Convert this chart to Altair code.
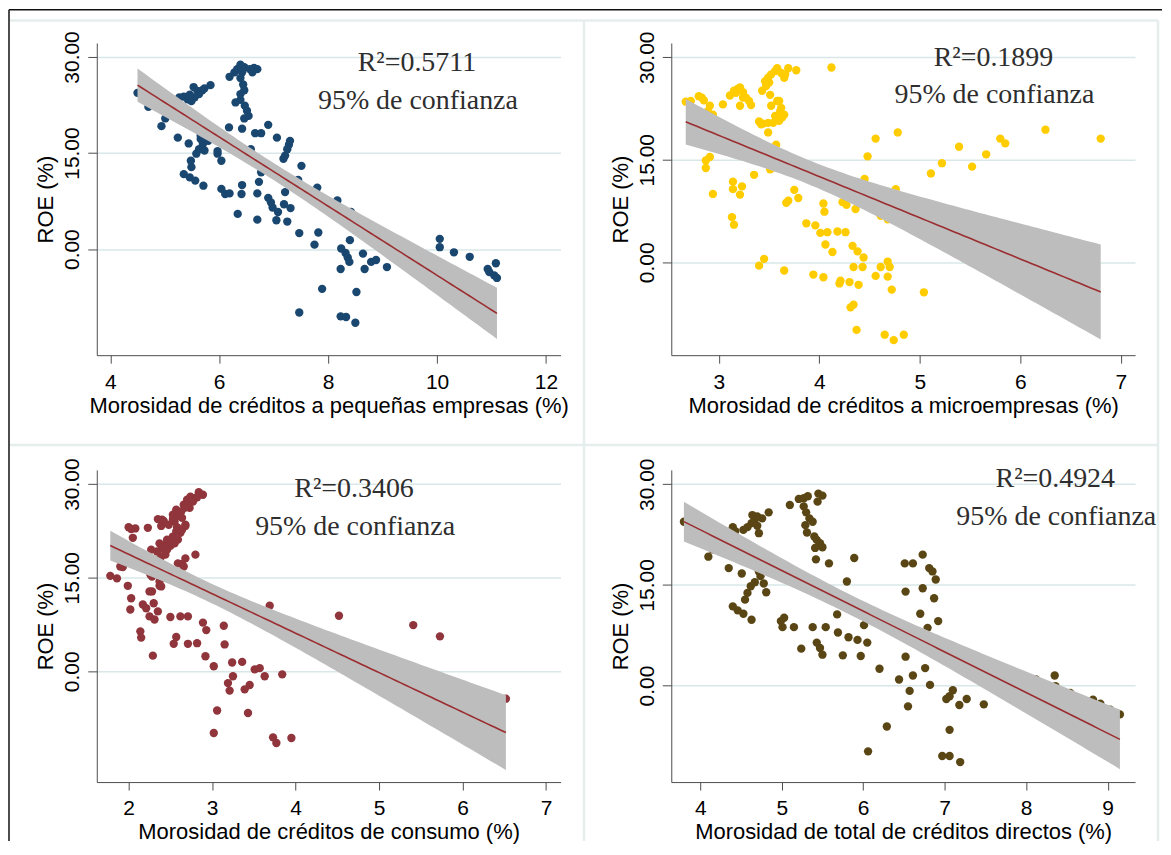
import altair as alt
import numpy as np
import pandas as pd

# ---------------- data ----------------
p1_x = [4.50, 4.70, 4.94, 5.01, 5.24, 5.44, 5.27, 5.35, 5.42, 5.49, 5.55, 5.46, 5.53, 5.60, 5.69, 5.73,
        5.84, 5.63, 5.66, 5.73, 5.80, 5.70, 5.63, 5.58, 5.73, 5.48, 5.49, 5.35, 5.46, 5.56, 5.71, 5.97,
        6.04, 6.04, 6.11, 6.19, 6.18, 6.19, 6.28, 6.33, 6.39, 6.46, 6.42, 6.39, 6.44, 6.46, 6.39, 6.30,
        6.39, 6.47, 6.51, 6.54, 6.46, 6.42, 6.56, 6.64, 6.70, 6.61, 6.58, 6.34, 6.41, 6.42, 6.70, 6.70,
        6.73, 6.77, 6.66, 6.77, 6.90, 6.90, 6.95, 6.98, 7.08, 7.05, 7.06, 7.18, 7.21, 7.25, 7.28, 7.30,
        7.21, 7.19, 7.31, 7.25, 7.45, 7.51, 7.47, 7.75, 7.82, 7.80, 7.89, 7.47, 8.17, 8.24, 8.32, 8.36,
        8.39, 8.23, 8.42, 8.40, 8.23, 8.33, 8.50, 8.52, 8.64, 8.67, 8.79, 8.88, 9.08, 10.05, 10.05, 10.31,
        10.60, 10.93, 10.96, 11.05, 11.10, 11.08, 5.97, 5.66]
p1_y = [24.4, 22.2, 19.2, 20.4, 17.4, 16.5, 23.7, 23.8, 23.4, 23.1, 23.7, 24.1, 25.3, 24.7, 24.8, 25.1,
        25.6, 24.2, 17.7, 17.2, 16.9, 16.4, 15.6, 14.9, 15.4, 13.8, 12.8, 11.7, 11.2, 10.7, 9.9, 14.9,
        13.8, 9.4, 8.6, 8.7, 19.0, 26.9, 27.6, 28.1, 28.8, 28.4, 27.6, 26.7, 25.7, 24.8, 24.2, 22.9,
        23.3, 22.4, 21.6, 20.8, 20.4, 18.8, 28.1, 28.3, 28.1, 27.6, 15.6, 5.5, 8.6, 10.0, 8.7, 4.6,
        10.5, 12.0, 18.1, 18.1, 19.4, 8.0, 7.3, 6.5, 5.8, 4.5, 17.4, 14.1, 14.6, 15.6, 16.3, 16.9,
        8.9, 7.0, 6.4, 4.3, 10.8, 13.0, 2.5, 0.7, 2.6, 9.6, -6.2, -9.9, 7.6, 0.1, -0.6, -1.3,
        -2.0, -3.1, 5.8, 1.4, -10.5, -10.6, -11.5, -6.7, -0.7, -3.1, -2.0, -1.7, -2.8, 1.6, 0.3, -0.5,
        -1.2, -3.1, -3.6, -4.1, -4.5, -2.2, 15.3, 17.2]

p2_x = [2.67, 2.80, 2.85, 2.91, 2.94, 3.04, 2.87, 2.91, 2.87, 2.94, 3.11, 3.15, 3.19, 3.21, 3.24, 3.27,
        3.32, 3.21, 3.14, 3.14, 3.23, 3.21, 3.13, 3.15, 3.35, 3.40, 3.44, 3.43, 3.46, 3.49, 3.52, 3.56,
        3.58, 3.51, 3.49, 3.52, 3.58, 3.61, 3.63, 3.60, 3.54, 3.57, 3.51, 3.66, 3.69, 3.77, 3.75, 3.79,
        3.67, 3.69, 3.40, 3.45, 3.65, 3.87, 3.96, 4.01, 4.08, 4.18, 4.26, 4.04, 4.05, 4.06, 4.13, 3.94,
        4.04, 4.20, 4.30, 4.39, 4.34, 4.33, 4.38, 4.44, 4.31, 4.34, 4.37, 4.12, 4.23, 4.27, 4.36, 4.45,
        4.48, 4.56, 4.78, 4.76, 4.61, 4.68, 4.56, 4.61, 4.68, 4.68, 4.72, 4.65, 4.74, 4.84, 5.04, 5.11,
        5.22, 5.39, 5.52, 5.66, 5.80, 5.85, 6.25, 6.80,
        3.17, 3.24, 3.30, 3.47, 3.50, 3.62, 3.65, 3.60, 3.62, 3.65, 3.56, 3.49, 3.42, 2.72, 2.83, 2.89,
        3.51, 3.54, 4.21, 4.43, 4.70]
p2_y = [23.5, 24.3, 23.7, 22.9, 21.6, 23.1, 14.9, 15.4, 13.8, 10.0, 24.4, 25.1, 25.4, 25.6, 24.9, 24.1,
        23.0, 22.9, 11.8, 10.7, 11.1, 9.9, 6.6, 5.5, 12.8, 20.6, 20.3, 25.1, 26.5, 27.0, 27.5, 28.0,
        28.4, 24.5, 19.0, 22.9, 23.6, 22.1, 21.2, 20.7, 20.4, 17.2, 13.6, 27.5, 28.4, 28.1, 10.6, 9.4,
        8.7, 9.0, -0.5, 0.5, -1.2, 5.7, 5.4, 4.3, 4.4, 4.5, 4.4, 8.6, 7.4, 2.6, 1.5, -1.8,
        -2.2, -3.1, -2.9, -3.3, -0.7, 2.4, 1.6, 0.7, -6.6, -6.2, -9.9, 28.5, 8.8, 8.4, 7.8, 12.2,
        15.5, 18.1, 19.0, 10.7, 6.8, 6.3, -2.0, -0.7, 0.1, -2.1, -4.0, -10.6, -11.4, -10.6, -4.4, 13.0,
        14.5, 16.9, 14.0, 15.8, 18.1, 17.4, 19.4, 18.1,
        24.8, 24.1, 23.6, 25.8, 26.3, 27.7, 27.0, 23.6, 22.6, 21.6, 21.4, 20.4, 20.2, 23.6, 24.1, 22.1,
        14.2, 13.9, -2.7, -0.7, -0.7]

# panel 3: last eight points are the observations hidden under the confidence band
p3_x = [1.78, 1.86, 1.93, 2.00, 2.03, 2.08, 2.05, 1.99, 2.03, 2.02, 2.17, 2.21, 2.25, 2.14, 2.15, 2.23,
        2.27, 2.28, 2.30, 2.31, 2.35, 2.29, 2.35, 2.40, 2.39, 2.37, 2.39, 2.37, 2.44, 2.46, 2.50, 2.53,
        2.57, 2.55, 2.58, 2.57, 2.62, 2.59, 2.64, 2.66, 2.68, 2.64, 2.66, 2.70, 2.74, 2.80, 2.84, 2.89,
        2.73, 2.68, 2.80, 2.50, 2.62, 2.71, 2.57, 2.54, 2.71, 2.82, 2.89, 2.93, 2.92, 3.02, 3.14, 3.15,
        3.24, 3.36, 3.25, 3.19, 3.21, 3.39, 3.45, 3.51, 3.57, 3.63, 3.84, 3.06, 3.02, 3.43, 3.73, 3.77,
        3.95, 3.69, 4.52, 5.41, 5.73, 6.52, 2.84, 2.44, 2.26,
        2.42, 2.48, 2.53, 2.61, 2.63, 2.67, 2.71, 2.75, 2.77, 2.82, 2.57, 2.53, 2.46, 2.40, 2.34, 2.44,
        2.50, 2.55, 2.59, 2.64, 2.68, 2.39, 2.37, 2.34, 2.28, 2.30, 2.25, 1.90, 1.94,
        4.85, 5.05, 5.20, 5.35, 5.60, 5.90, 6.10, 6.22]
p3_y = [15.3, 14.9, 16.7, 23.1, 22.8, 22.9, 21.4, 13.7, 11.7, 9.9, 10.7, 10.1, 8.8, 6.4, 5.4, 23.0,
        19.5, 12.8, 10.9, 8.3, 9.6, 2.5, 24.4, 24.3, 23.3, 20.5, 18.4, 13.7, 20.3, 19.5, 21.1, 25.1,
        25.9, 24.0, 23.1, 21.1, 22.2, 17.3, 17.2, 16.8, 18.1, 24.6, 26.7, 27.5, 28.0, 27.8, 28.7, 28.3,
        26.2, 23.5, 18.7, 8.7, 8.8, 8.8, 5.5, 4.4, 4.4, 4.5, 7.8, 6.6, 2.4, 0.8, 7.3, 4.3,
        1.4, 1.5, -0.8, -1.9, -3.1, -2.9, -2.2, 0.3, 0.5, -0.8, -0.5, -6.3, -9.9, -6.7, -10.6, -11.5,
        -10.7, 10.5, 8.9, 7.4, 5.6, -4.4, 14.1, 16.0, 15.5,
        24.1, 23.5, 24.4, 24.9, 25.6, 26.2, 27.0, 27.6, 27.2, 27.9, 22.4, 21.6, 21.1, 19.7, 19.2, 18.7,
        20.1, 20.5, 21.1, 22.7, 23.3, 13.6, 14.4, 15.9, 15.2, 16.8, 12.8, 16.8, 17.3,
        1.6, 0.3, -0.5, -1.2, -2.2, -3.1, -3.6, -4.1]

p4_x = [3.80, 3.89, 4.10, 4.15, 4.35, 4.40, 4.43, 4.51, 4.40, 4.46, 4.53, 4.63, 4.55, 4.58, 4.62, 4.67,
        4.72, 4.74, 4.78, 4.81, 4.53, 4.58, 4.63, 4.67, 4.70, 4.64, 4.70, 4.76, 4.72, 4.84, 4.99, 5.03,
        5.01, 5.15, 5.10, 5.24, 5.21, 5.27, 5.32, 5.27, 5.30, 5.34, 5.38, 5.29, 5.31, 5.40, 5.43, 5.45,
        5.50, 5.44, 5.47, 5.41, 5.50, 5.42, 5.38, 5.43, 5.47, 5.50, 5.54, 5.58, 5.68, 5.69, 5.75, 5.80,
        5.82, 5.89, 5.93, 5.97, 6.01, 6.05, 6.20, 6.44, 6.29, 6.06, 6.51, 6.52, 6.61, 6.52, 6.57, 6.55,
        6.61, 6.73, 6.73, 6.70, 6.79, 6.81, 6.85, 6.89, 6.87, 6.92, 6.76, 6.82, 7.02, 7.06, 7.10, 7.18,
        7.27, 7.06, 6.97, 7.06, 7.19, 7.48, 8.35, 8.36, 8.54, 8.82, 8.91, 9.03, 9.15, 8.12]
p4_y = [24.4, 22.2, 19.2, 20.3, 17.5, 23.6, 23.0, 16.7, 11.8, 11.2, 10.7, 9.8, 12.8, 13.8, 14.8, 15.4,
        17.0, 16.3, 15.2, 13.9, 23.2, 23.6, 24.2, 24.7, 23.8, 25.4, 25.2, 24.9, 22.7, 25.8, 9.6, 10.1,
        8.7, 8.7, 26.9, 5.5, 27.8, 27.9, 28.2, 26.7, 25.8, 24.9, 24.4, 23.9, 22.8, 22.2, 21.7, 28.6,
        28.3, 27.4, 21.2, 20.5, 20.6, 18.8, 8.7, 6.4, 5.6, 4.6, 8.7, 18.2, 10.6, 7.9, 4.5, 15.5,
        7.2, 19.0, 6.8, 4.4, 9.0, 6.4, 2.5, 0.9, -6.1, -9.8, 18.2, 14.0, 18.2, 4.3, -0.8, -3.1,
        1.5, 19.5, 14.5, 10.7, 8.6, 17.5, 17.0, 15.8, 13.0, 9.6, 2.6, 0.1, -2.0, -1.6, -0.7, -2.9,
        -2.0, -6.6, -10.5, -10.5, -11.4, -2.8, 1.5, -0.1, -1.1, -2.1, -2.7, -3.6, -4.3, 0.9]

x_titles = ["Morosidad de créditos a pequeñas empresas (%)",
            "Morosidad de créditos a microempresas (%)",
            "Morosidad de créditos de consumo (%)",
            "Morosidad de total de créditos directos (%)"]
r2_labels = ["R²=0.5711", "R²=0.1899", "R²=0.3406", "R²=0.4924"]
conf_label = "95% de confianza"
x_ticks = [[4, 6, 8, 10, 12], [3, 4, 5, 6, 7], [2, 3, 4, 5, 6, 7], [4, 5, 6, 7, 8, 9]]
y_ticks = [0, 15, 30]

# ---------------- styling / layout ----------------
W, H = 465, 313
x_domains = [[3.752, 12.268], [2.526, 7.142], [1.618, 7.175], [3.645, 9.336]]
y_domains = [[-16.56, 32.18], [-13.6, 32.09], [-17.77, 32.29], [-14.38, 32.13]]
dot_colors = ["#1a476f", "#ffcc00", "#90353b", "#5a4614"]
text_pos = [(321, 28, 66), (323, 23, 60), (258, 27, 65), (385, 17, 55)]
LINE_COL = "#9b2d30"
BAND_COL = "#bdbdbd"
SEP_COL = "#e6eded"


def fit_table(xs, ys, n=80):
    x = np.asarray(xs, float)
    y = np.asarray(ys, float)
    b, a = np.polyfit(x, y, 1)
    res = y - (a + b * x)
    s = np.sqrt(np.sum(res ** 2) / (len(x) - 2))
    sxx = np.sum((x - x.mean()) ** 2)
    g = np.linspace(x.min(), x.max(), n)
    f = a + b * g
    se = s * np.sqrt(1.0 / len(x) + (g - x.mean()) ** 2 / sxx)
    t = 1.98
    return pd.DataFrame({"x": g, "fit": f, "lo": f - t * se, "hi": f + t * se})


panels_xy = [(p1_x, p1_y), (p2_x, p2_y), (p3_x, p3_y), (p4_x, p4_y)]


def make_panel(i):
    xs, ys = panels_xy[i]
    df = pd.DataFrame({"x": xs, "y": ys})
    fdf = fit_table(xs, ys)
    xsc = alt.Scale(domain=x_domains[i], nice=False, zero=False)
    ysc = alt.Scale(domain=y_domains[i], nice=False, zero=False)
    xax = alt.Axis(values=x_ticks[i], title=x_titles[i], grid=False)
    yax = alt.Axis(values=y_ticks, format=".2f", title="ROE (%)", grid=True)

    pts = alt.Chart(df).mark_circle(size=70, opacity=1, color=dot_colors[i]).encode(
        x=alt.X("x:Q", scale=xsc, axis=xax),
        y=alt.Y("y:Q", scale=ysc, axis=yax),
    )
    band = alt.Chart(fdf).mark_area(color=BAND_COL, opacity=1).encode(
        x=alt.X("x:Q", scale=xsc, axis=xax),
        y=alt.Y("lo:Q", scale=ysc, axis=yax),
        y2="hi:Q",
    )
    line = alt.Chart(fdf).mark_line(color=LINE_COL, strokeWidth=1.6).encode(
        x=alt.X("x:Q", scale=xsc, axis=xax),
        y=alt.Y("fit:Q", scale=ysc, axis=yax),
    )
    tx, ty1, ty2 = text_pos[i]
    tdf = pd.DataFrame({"t": [r2_labels[i]]})
    cdf = pd.DataFrame({"t": [conf_label]})
    t1 = alt.Chart(tdf).mark_text(font="Liberation Serif", fontSize=28, color="#2e2e2e",
                                  align="center", baseline="alphabetic").encode(
        x=alt.value(tx), y=alt.value(ty1), text="t:N")
    t2 = alt.Chart(cdf).mark_text(font="Liberation Serif", fontSize=28, color="#2e2e2e",
                                  align="center", baseline="alphabetic").encode(
        x=alt.value(tx + 1), y=alt.value(ty2), text="t:N")
    layers = [pts, band, line, t1, t2]

    if i == 0:
        # frame and panel separators, drawn in panel-1 pixel space
        base = alt.Chart(pd.DataFrame({"d": [0]}))
        sep = dict(color=SEP_COL, strokeWidth=2.5)
        layers += [
            base.mark_rule(**sep).encode(x=alt.value(-87), x2=alt.value(1064), y=alt.value(-22.5)),
            base.mark_rule(**sep).encode(x=alt.value(-87), x2=alt.value(1064), y=alt.value(403)),
            base.mark_rule(**sep).encode(x=alt.value(488.5), y=alt.value(-22.5), y2=alt.value(800)),
            base.mark_rule(**sep).encode(x=alt.value(1064), y=alt.value(-22.5), y2=alt.value(800)),
            base.mark_rule(color="#111111", strokeWidth=1.5).encode(
                x=alt.value(-88), x2=alt.value(1068), y=alt.value(-33.25)),
            base.mark_rule(color="#111111", strokeWidth=1.5).encode(
                x=alt.value(-88), y=alt.value(-33.25), y2=alt.value(800)),
        ]
    return alt.layer(*layers).properties(width=W, height=H)


chart = (
    alt.concat(make_panel(0), make_panel(1), make_panel(2), make_panel(3),
               columns=2, spacing=alt.RowColnumber(row=115, column=111), bounds="flush")
    .properties(padding=0, background="white")
    .configure_view(stroke=None)
    .configure_axis(
        labelFont="Liberation Sans", titleFont="Liberation Sans",
        labelFontSize=21, titleFontSize=22, labelColor="#000000", titleColor="#000000",
        titleFontWeight="normal", domainColor="#4d4d4d", tickColor="#4d4d4d",
        domainWidth=1, tickWidth=1,
    )
    .configure_axisX(tickSize=8, labelPadding=8, titlePadding=3, labelFlush=False)
    .configure_axisY(tickSize=9, labelPadding=5, titlePadding=4, labelAngle=270,
                     gridColor="#d9e7e9", gridWidth=1.5, labelFlush=False)
)

chart.save("out.html", embed_options={"renderer": "svg", "actions": False})
